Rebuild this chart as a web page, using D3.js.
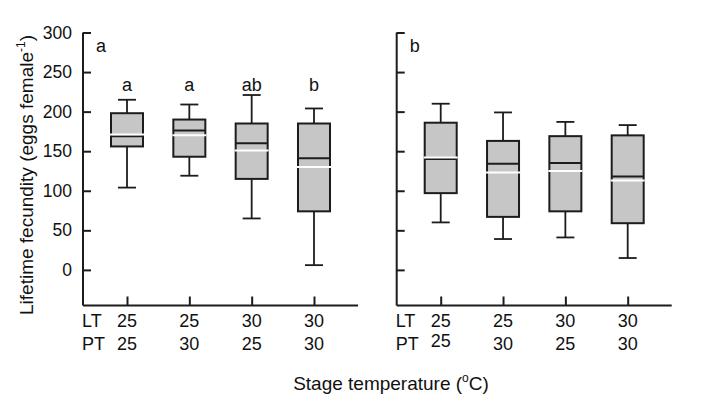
<!DOCTYPE html>
<html>
<head>
<meta charset="utf-8">
<script src="https://cdn.jsdelivr.net/npm/d3@7"></script>
<style>
  body { margin: 0; background: #fff; }
  svg { display: block; font-family: "Liberation Sans", Arial, sans-serif; }
</style>
</head>
<body>
<svg id="chart" width="704" height="395"></svg>
<script>
// Data
const groups = ["25/25", "25/30", "30/25", "30/30"];
const ltLabels = ["25", "25", "30", "30"];
const ptLabels = ["25", "30", "25", "30"];
const yTicks = [0, 50, 100, 150, 200, 250, 300];

// panel a: whisker low, q1, median, mean, q3, whisker high
const lowA = [104, 119, 65, 6];
const q1A = [156, 143, 115, 74];
const medA = [169, 176, 160, 141];
const meanA = [171, 170, 151, 130];
const q3A = [198, 190, 185, 185];
const highA = [215, 209, 221, 204];
const lettersA = ["a", "a", "ab", "b"];

// panel b
const lowB = [60, 39, 41, 15];
const q1B = [97, 67, 74, 59];
const medB = [140, 134, 135, 118];
const meanB = [142, 123, 125, 113];
const q3B = [186, 163, 169, 170];
const highB = [210, 199, 187, 183];

// Layout
const plotW = 275;
const yTop = 32.5;
const yBottom = 305.5;
const boxW = 32;
const capW = 18;
const ink = "#1c1c1c";

const svg = d3.select("#chart");

const y = d3.scaleLinear().domain([-45, 300]).range([yBottom, yTop]);
const x = d3.scalePoint().domain(groups).range([0, plotW]).padding(0.706);

function buildRows(low, q1, med, mean, q3, high) {
  return groups.map((g, i) => ({
    group: g, low: low[i], q1: q1[i], med: med[i], mean: mean[i], q3: q3[i], high: high[i],
  }));
}

function drawPanel(left, rows, panelLetter, showYLabels, letters) {
  const g = svg.append("g").attr("transform", `translate(${left},0)`);

  // y axis
  const yAxis = d3.axisLeft(y).tickValues(yTicks).tickSize(-8).tickPadding(11);
  if (!showYLabels) yAxis.tickFormat("");
  const ya = g.append("g").call(yAxis);
  ya.select(".domain").attr("d", `M0,${yTop}V${yBottom}`);
  ya.selectAll("line, path").attr("stroke", ink).attr("stroke-width", 2);
  ya.selectAll("text").attr("font-size", 17.5).attr("fill", "#111")
    .attr("font-family", "Liberation Sans, Arial, sans-serif");

  // x axis
  const xAxis = d3.axisBottom(x).tickSize(-9).tickFormat("");
  const xa = g.append("g").attr("transform", `translate(0,${yBottom})`).call(xAxis);
  xa.select(".domain").attr("d", `M0,0H${plotW}`);
  xa.selectAll("line, path").attr("stroke", ink).attr("stroke-width", 2);

  // whiskers
  g.selectAll(".whisker").data(rows).enter().append("line")
    .attr("x1", (d) => x(d.group)).attr("x2", (d) => x(d.group))
    .attr("y1", (d) => y(d.low)).attr("y2", (d) => y(d.high))
    .attr("stroke", ink).attr("stroke-width", 1.8);

  ["low", "high"].forEach((k) => {
    g.selectAll(".cap-" + k).data(rows).enter().append("line")
      .attr("x1", (d) => x(d.group) - capW / 2).attr("x2", (d) => x(d.group) + capW / 2)
      .attr("y1", (d) => y(d[k])).attr("y2", (d) => y(d[k]))
      .attr("stroke", ink).attr("stroke-width", 1.8);
  });

  // boxes
  g.selectAll(".box").data(rows).enter().append("rect")
    .attr("x", (d) => x(d.group) - boxW / 2)
    .attr("y", (d) => y(d.q3))
    .attr("width", boxW)
    .attr("height", (d) => y(d.q1) - y(d.q3))
    .attr("fill", "#c6c6c6").attr("stroke", ink).attr("stroke-width", 2);

  // median (black) and mean (white)
  g.selectAll(".median").data(rows).enter().append("line")
    .attr("x1", (d) => x(d.group) - boxW / 2).attr("x2", (d) => x(d.group) + boxW / 2)
    .attr("y1", (d) => y(d.med)).attr("y2", (d) => y(d.med))
    .attr("stroke", ink).attr("stroke-width", 2);

  g.selectAll(".mean").data(rows).enter().append("line")
    .attr("x1", (d) => x(d.group) - boxW / 2 - 1).attr("x2", (d) => x(d.group) + boxW / 2 + 1)
    .attr("y1", (d) => y(d.mean)).attr("y2", (d) => y(d.mean))
    .attr("stroke", "#fff").attr("stroke-width", 2);

  // significance letters
  if (letters) {
    g.selectAll(".sig").data(rows).enter().append("text")
      .attr("x", (d) => x(d.group)).attr("y", 91)
      .attr("text-anchor", "middle").attr("font-size", 18).attr("fill", "#111")
      .text((d, i) => letters[i]);
  }

  // panel letter
  g.append("text").attr("x", 13).attr("y", 52)
    .attr("font-size", 18).attr("fill", "#111").text(panelLetter);

  // LT / PT rows
  g.append("text").attr("x", -1).attr("y", 327).attr("font-size", 18).attr("fill", "#111").text("LT");
  g.append("text").attr("x", -1).attr("y", 350).attr("font-size", 18).attr("fill", "#111").text("PT");
  g.selectAll(".lt").data(groups).enter().append("text")
    .attr("x", (d) => x(d)).attr("y", 327).attr("text-anchor", "middle")
    .attr("font-size", 18).attr("fill", "#111").text((d, i) => ltLabels[i]);
  g.selectAll(".pt").data(groups).enter().append("text")
    .attr("x", (d) => x(d)).attr("y", (d, i) => (panelLetter === "b" && i === 0 ? 347 : 350))
    .attr("text-anchor", "middle")
    .attr("font-size", 18).attr("fill", "#111").text((d, i) => ptLabels[i]);
}

drawPanel(83, buildRows(lowA, q1A, medA, meanA, q3A, highA), "a", true, lettersA);
drawPanel(396.7, buildRows(lowB, q1B, medB, meanB, q3B, highB), "b", false, null);

// y axis title
const yt = svg.append("text")
  .attr("transform", "translate(33,175) rotate(-90)")
  .attr("text-anchor", "middle").attr("font-size", 19).attr("fill", "#111");
yt.append("tspan").text("Lifetime fecundity (eggs female");
yt.append("tspan").attr("font-size", 12).attr("dy", -8).text("-1");
yt.append("tspan").attr("dy", 8).text(")");

// x axis title
const xt = svg.append("text")
  .attr("x", 391).attr("y", 390)
  .attr("text-anchor", "middle").attr("font-size", 19).attr("fill", "#111");
xt.append("tspan").text("Stage temperature (");
xt.append("tspan").attr("font-size", 12).attr("dy", -8).text("o");
xt.append("tspan").attr("dy", 8).text("C)");
</script>
</body>
</html>
